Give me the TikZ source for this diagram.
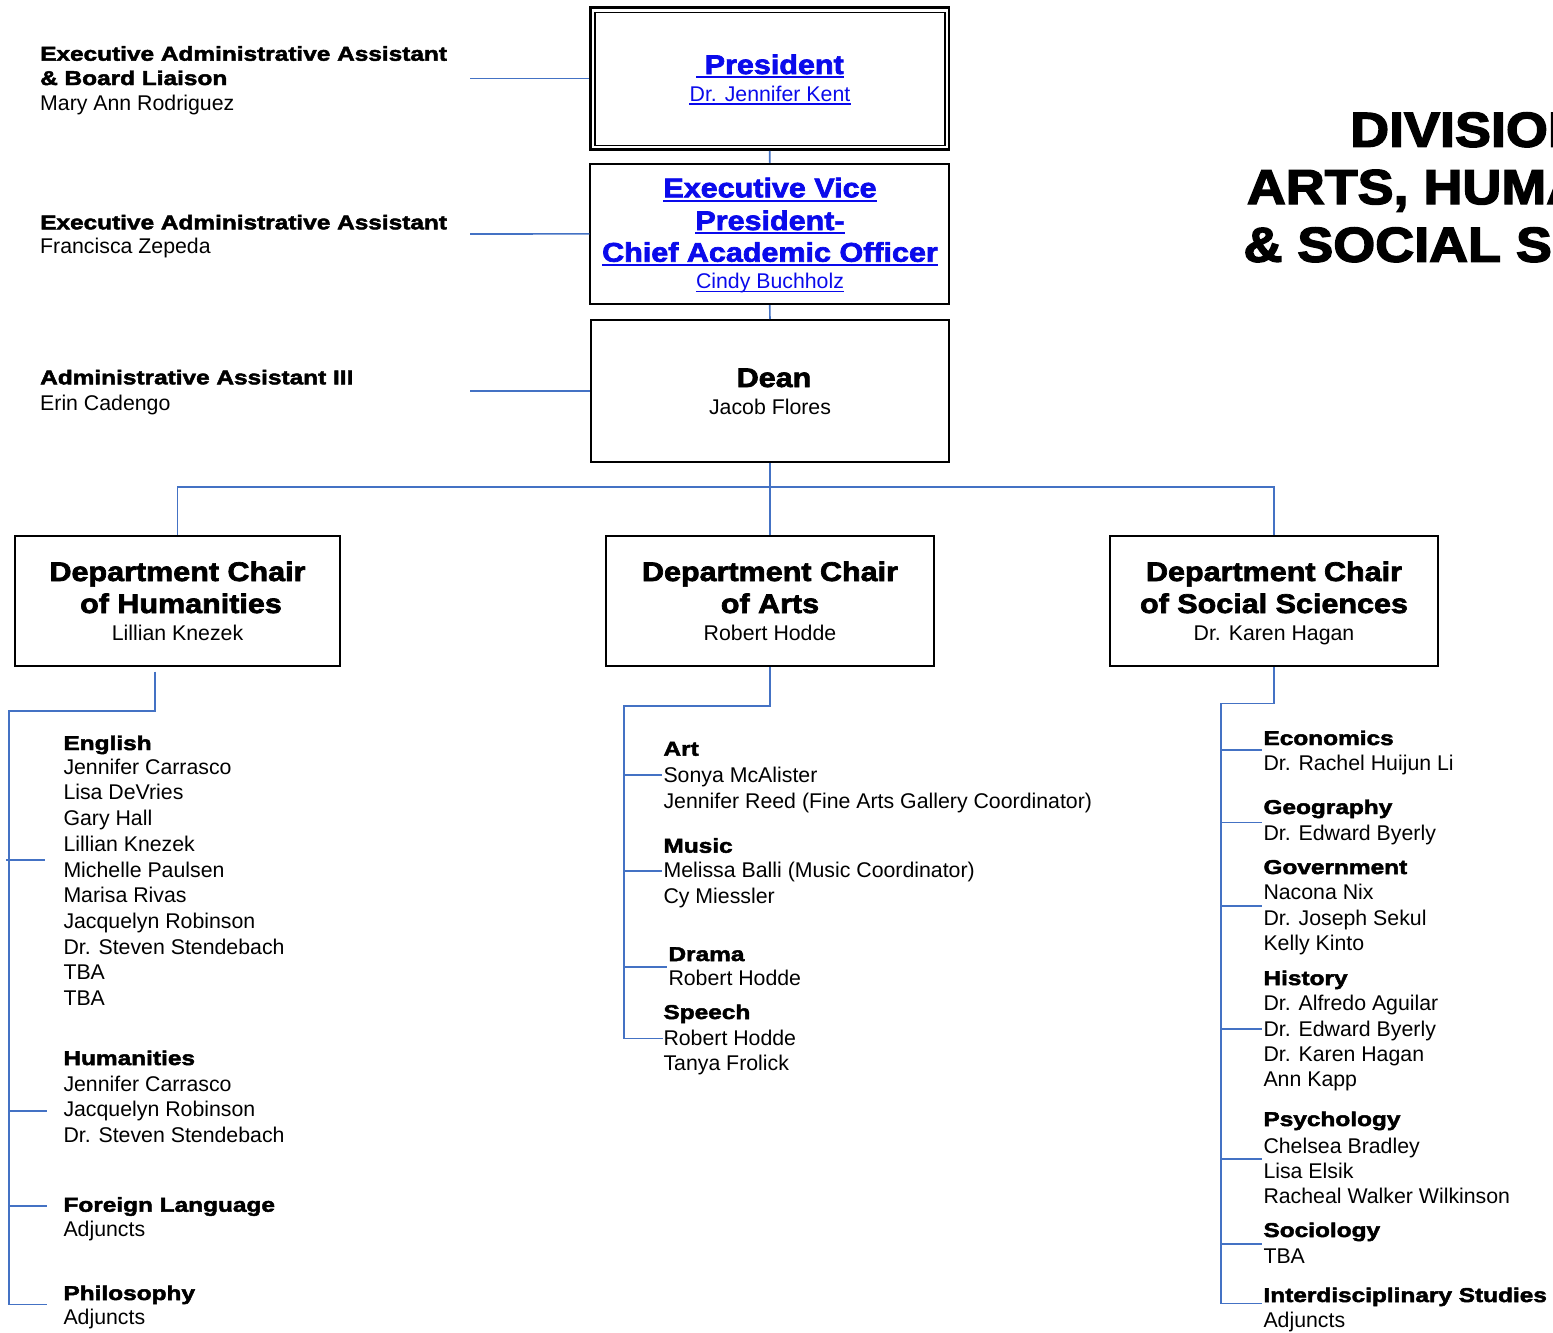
\documentclass[tikz,border=0pt]{standalone}
\usepackage{fontspec}
\setmainfont{Liberation Sans}
\newfontfamily\blkfam{Liberation Sans}[BoldFeatures={FakeStretch=1.22,FakeBold=2.4}]
\newfontfamily\boxfam{Liberation Sans}[BoldFeatures={FakeStretch=1.13,FakeBold=2.6}]
\newfontfamily\titfam{Liberation Sans}[BoldFeatures={FakeStretch=1.10,FakeBold=3}]
\definecolor{connc}{RGB}{68,114,196}
\definecolor{linkc}{RGB}{10,10,235}
\begin{document}
\begin{tikzpicture}[x=1pt,y=-1pt,
  nm/.style={font=\fontsize{21.3}{25.6}\selectfont, inner sep=0pt, anchor=base west},
  lh/.style={font=\blkfam\bfseries\fontsize{20}{25}\selectfont, inner sep=0pt, anchor=base west},
  bh/.style={font=\boxfam\bfseries\fontsize{27}{32}\selectfont, inner sep=0pt, anchor=base},
  bn/.style={font=\fontsize{21.3}{25.6}\selectfont, inner sep=0pt, anchor=base},
  tt/.style={font=\titfam\bfseries\fontsize{49}{57}\selectfont, inner sep=0pt, anchor=base west},
  box/.style={draw=black, line width=2pt, inner sep=0pt},
  conn/.style={draw=connc, line width=1.6pt},
  ulh/.style={draw=linkc, line width=2pt},
  uln/.style={draw=linkc, line width=1.3pt}
]
\useasboundingbox (0,0) rectangle (1553,1333);

% ---------- title (clipped at the right edge, as in the reference) ----------
\begin{scope}
  \clip (1200,80) rectangle (1553,290);
  \node[tt] (t1) at (1350,146.7) {DIVISION OF};
  \node[tt] (t2) at (1246.7,204) {ARTS, HUMANITIES};
  \node[tt] (t3) at (1243.3,261.7) {\& SOCIAL SCIENCES};
\end{scope}

% ---------- top boxes ----------
\node[draw=black, line width=2.7pt, minimum width=358.5pt, minimum height=142pt] (pres) at (769.75,78.5) {};
\node[draw=black, line width=1.7pt, minimum width=350pt, minimum height=133pt] (presin) at (770,79) {};
\node[bh, text=linkc] (presT) at (770,74) {\ President};
\node[bn, text=linkc] (presN) at (770,101) {Dr. Jennifer Kent};
\draw[ulh] ([yshift=-3.3pt]presT.base west) -- ([yshift=-3.3pt]presT.base east);
\draw[uln] ([yshift=-3pt]presN.base west) -- ([yshift=-3pt]presN.base east);

\node[box, minimum width=358.7pt, minimum height=140.3pt] (evp) at (769.7,233.9) {};
\node[bh, text=linkc] (evp1) at (770,197.3) {Executive Vice};
\node[bh, text=linkc] (evp2) at (770,230) {President-};
\node[bh, text=linkc] (evp3) at (770,261.7) {Chief Academic Officer};
\node[bn, text=linkc] (evpN) at (770,288.3) {Cindy Buchholz};
\foreach \n in {evp1,evp2,evp3}
  \draw[ulh] ([yshift=-3.3pt]\n.base west) -- ([yshift=-3.3pt]\n.base east);
\draw[uln] ([yshift=-3pt]evpN.base west) -- ([yshift=-3pt]evpN.base east);

\node[box, minimum width=358pt, minimum height=142pt] (dean) at (770,391) {};
\node[bh] (deanT) at (774,387) {Dean};
\node[bn] (deanN) at (770,414) {Jacob Flores};

% ---------- assistants ----------
\node[lh] (ea1a) at (40,60.7) {Executive Administrative Assistant};
\node[lh] (ea1b) at (40,85) {\& Board Liaison};
\node[nm] (ea1n) at (40,110.7) {Mary Ann Rodriguez};
\node[lh] (ea2a) at (40,229.3) {Executive Administrative Assistant};
\node[nm] (ea2n) at (40,253.3) {Francisca Zepeda};
\node[lh] (ea3a) at (40,384.3) {Administrative Assistant III};
\node[nm] (ea3n) at (40,410) {Erin Cadengo};
\coordinate (c1) at (470,78.5);
\coordinate (c2) at (470,234);
\coordinate (c3) at (470,391);
\draw[conn] (c1) -- (pres.west);
\draw[conn] (c2) -- (evp.west);
\draw[conn] (c3) -- (dean.west);
\draw[conn] (pres.south) -- (evp.north);
\draw[conn] (evp.south) -- (dean.north);

% ---------- department boxes ----------
\node[box, minimum width=325pt, minimum height=130pt] (hum) at (177.5,601) {};
\node[bh] (hum1) at (177.5,581) {Department Chair};
\node[bh] (hum2) at (181,613) {of Humanities};
\node[bn] (humN) at (177.5,640) {Lillian Knezek};

\node[box, minimum width=328pt, minimum height=130pt] (arts) at (770,601) {};
\node[bh] (arts1) at (770,581) {Department Chair};
\node[bh] (arts2) at (770,613) {of Arts};
\node[bn] (artsN) at (770,640) {Robert Hodde};

\node[box, minimum width=328pt, minimum height=130pt] (soc) at (1274,601) {};
\node[bh] (soc1) at (1274,581) {Department Chair};
\node[bh] (soc2) at (1274,613) {of Social Sciences};
\node[bn] (socN) at (1274,640) {Dr. Karen Hagan};

\coordinate (bus) at (770,487);
\draw[conn] (dean.south) -- (arts.north);
\draw[conn] (hum.north) -- (hum.north |- bus) -- (soc.north |- bus) -- (soc.north);

% ---------- Humanities list ----------
\coordinate (h0) at (155,671.5);
\coordinate (hv) at (9,710.7);
\coordinate (hb) at (9,1304.3);
\coordinate (hbe) at (46.7,1304.3);
\draw[conn] (h0) |- (hv) -- (hb) -- (hbe);
\coordinate (hs1) at (6,860);   \coordinate (he1) at (44.5,860);
\coordinate (hs2) at (9,1110.7); \coordinate (he2) at (46.7,1110.7);
\coordinate (hs3) at (9,1205.7); \coordinate (he3) at (46.7,1205.7);
\draw[conn] (hs1) -- (he1);
\draw[conn] (hs2) -- (he2);
\draw[conn] (hs3) -- (he3);

\node[lh] (engH) at (63.3,750) {English};
\foreach \t [count=\i] in {Jennifer Carrasco, Lisa DeVries, Gary Hall, Lillian Knezek, Michelle Paulsen, Marisa Rivas, Jacquelyn Robinson, Dr. Steven Stendebach, TBA, TBA}
  \node[nm] (eng\i) at (63.3,{748.5+25.7*\i}) {\t};
\node[lh] (humH) at (63.3,1065) {Humanities};
\foreach \t [count=\i] in {Jennifer Carrasco, Jacquelyn Robinson, Dr. Steven Stendebach}
  \node[nm] (hl\i) at (63.3,{1065.8+25.4*\i}) {\t};
\node[lh] (flH) at (63.3,1211.7) {Foreign Language};
\node[nm] (fl1) at (63.3,1236.7) {Adjuncts};
\node[lh] (phH) at (63.3,1300) {Philosophy};
\node[nm] (ph1) at (63.3,1324.5) {Adjuncts};

% ---------- Arts list ----------
\coordinate (av) at (624,705.7);
\coordinate (ab) at (624,1038.3);
\coordinate (abe) at (663,1038.3);
\draw[conn] (arts.south) |- (av) -- (ab) -- (abe);
\coordinate (as1) at (624,775);   \coordinate (ae1) at (662,775);
\coordinate (as2) at (624,870.7); \coordinate (ae2) at (662,870.7);
\coordinate (as3) at (624,966.7); \coordinate (ae3) at (666.7,966.7);
\draw[conn] (as1) -- (ae1);
\draw[conn] (as2) -- (ae2);
\draw[conn] (as3) -- (ae3);

\node[lh] (artH) at (663.3,755.7) {Art};
\node[nm] (art1) at (663.3,782.7) {Sonya McAlister};
\node[nm] (art2) at (663.3,808) {Jennifer Reed (Fine Arts Gallery Coordinator)};
\node[lh] (musH) at (663.3,852.7) {Music};
\node[nm] (mus1) at (663.3,877.5) {Melissa Balli (Music Coordinator)};
\node[nm] (mus2) at (663.3,903) {Cy Miessler};
\node[lh] (draH) at (668.3,961) {Drama};
\node[nm] (dra1) at (668.3,985.7) {Robert Hodde};
\node[lh] (speH) at (663.3,1019) {Speech};
\node[nm] (spe1) at (663.3,1045.7) {Robert Hodde};
\node[nm] (spe2) at (663.3,1070.7) {Tanya Frolick};

% ---------- Social Sciences list ----------
\coordinate (sv) at (1221,703.3);
\coordinate (sb) at (1221,1303.3);
\coordinate (sbe) at (1262.3,1303.3);
\draw[conn] (soc.south) |- (sv) -- (sb) -- (sbe);
\foreach \yy [count=\i] in {750,822.3,905.7,1029,1159,1244}
  {\coordinate (ss\i) at (1221,\yy); \coordinate (se\i) at (1262.3,\yy);
   \draw[conn] (ss\i) -- (se\i);}

\node[lh] (ecoH) at (1263.3,745) {Economics};
\node[nm] (eco1) at (1263.3,770) {Dr. Rachel Huijun Li};
\node[lh] (geoH) at (1263.3,814) {Geography};
\node[nm] (geo1) at (1263.3,840) {Dr. Edward Byerly};
\node[lh] (govH) at (1263.3,874) {Government};
\foreach \t [count=\i] in {Nacona Nix, Dr. Joseph Sekul, Kelly Kinto}
  \node[nm] (gov\i) at (1263.3,{874+25.6*\i}) {\t};
\node[lh] (hisH) at (1263.3,985) {History};
\foreach \t [count=\i] in {Dr. Alfredo Aguilar, Dr. Edward Byerly, Dr. Karen Hagan, Ann Kapp}
  \node[nm] (his\i) at (1263.3,{985.6+25.3*\i}) {\t};
\node[lh] (psyH) at (1263.3,1126) {Psychology};
\foreach \t [count=\i] in {Chelsea Bradley, Lisa Elsik, Racheal Walker Wilkinson}
  \node[nm] (psy\i) at (1263.3,{1127.6+25.4*\i}) {\t};
\node[lh] (socH) at (1263.3,1237) {Sociology};
\node[nm] (soc1n) at (1263.3,1263) {TBA};
\node[lh] (intH) at (1263.3,1302) {Interdisciplinary Studies};
\node[nm] (int1) at (1263.3,1327) {Adjuncts};
\end{tikzpicture}
\end{document}
